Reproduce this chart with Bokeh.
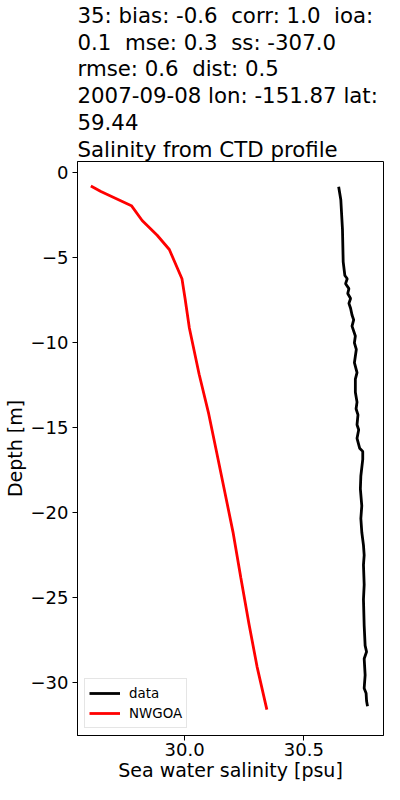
from bokeh.plotting import figure
from bokeh.models import (Range1d, FixedTicker, NumeralTickFormatter, CustomJSTickFormatter,
                          Legend, LegendItem)
from bokeh.embed import file_html
from bokeh.resources import INLINE

# ---- data ----
NB = "\u00a0"
title_lines = [
    "35: bias: -0.6" + NB + " corr: 1.0" + NB + " ioa:",
    "0.1" + NB + " mse: 0.3" + NB + " ss: -307.0",
    "rmse: 0.6" + NB + " dist: 0.5",
    "2007-09-08 lon: -151.87 lat:",
    "59.44",
    "Salinity from CTD profile",
]

data_salinity = [30.646, 30.655, 30.662, 30.665, 30.672, 30.682, 30.675, 30.689, 30.684, 30.696,
                 30.689, 30.696, 30.702, 30.709, 30.702, 30.716, 30.712, 30.720, 30.712, 30.723,
                 30.716, 30.716, 30.723, 30.719, 30.727, 30.723, 30.730, 30.723, 30.734, 30.747,
                 30.747, 30.739, 30.737, 30.743, 30.739, 30.743, 30.750, 30.753, 30.750, 30.753,
                 30.750, 30.753, 30.757, 30.763, 30.753, 30.757, 30.753, 30.761, 30.763, 30.767]
data_depth = [-0.84, -1.61, -3.36, -5.27, -6.07, -6.26, -6.55, -6.84, -7.13, -7.42,
              -7.71, -8.00, -8.39, -8.68, -9.05, -9.63, -10.03, -10.42, -11.20, -11.78,
              -12.17, -12.94, -13.52, -13.91, -14.27, -14.85, -15.15, -15.65, -16.23, -16.42,
              -16.89, -17.87, -18.63, -19.62, -20.37, -21.18, -21.94, -22.52, -23.10, -24.26,
              -25.13, -26.68, -27.85, -28.21, -28.62, -29.59, -30.36, -30.65, -31.11, -31.42]

model_salinity = [29.607, 29.649, 29.777, 29.822, 29.885, 29.936, 29.989, 30.002, 30.020, 30.061,
                  30.101, 30.135, 30.169, 30.203, 30.236, 30.270, 30.304, 30.345]
model_depth = [-0.80, -1.13, -1.96, -2.83, -3.70, -4.54, -6.26, -7.42, -9.16, -11.88,
               -14.20, -16.52, -18.84, -21.17, -23.87, -26.58, -29.10, -31.62]

x_ticks = [30.0, 30.5]
y_ticks = [-30, -25, -20, -15, -10, -5, 0]

FONT = "DejaVu Sans"

p = figure(width=384, height=784, output_backend="svg", toolbar_location=None,
           x_range=Range1d(29.551, 30.834), y_range=Range1d(-33.14, 0.64),
           min_border_left=71, min_border_right=1, min_border_top=153, min_border_bottom=49)

p.title.text = "\n".join(title_lines)
p.title.align = "left"
p.title.text_font = FONT
p.title.text_font_size = "21.3px"
p.title.text_font_style = "normal"
p.title.text_color = "black"
p.title.text_line_height = 1.07
p.title.standoff = 0
p.title.offset = 0

p.background_fill_color = "white"
p.border_fill_color = "white"
p.outline_line_color = "black"
p.outline_line_alpha = 1.0
p.outline_line_width = 1
p.xgrid.visible = False
p.ygrid.visible = False

r1 = p.line(data_salinity, data_depth, line_color="black", line_width=2.8)
r2 = p.line(model_salinity, model_depth, line_color="red", line_width=2.8)

for ax in (p.xaxis[0], p.yaxis[0]):
    ax.axis_line_color = "black"
    ax.major_tick_line_color = "black"
    ax.minor_tick_line_color = None
    ax.major_tick_out = 5
    ax.major_tick_in = 0
    ax.major_label_text_font = FONT
    ax.major_label_text_font_size = "18px"
    ax.major_label_text_color = "black"
    ax.axis_label_text_font = FONT
    ax.axis_label_text_font_size = "19px"
    ax.axis_label_text_font_style = "normal"
    ax.axis_label_text_color = "black"

p.xaxis[0].major_label_standoff = 2
p.xaxis[0].axis_label_standoff = 0
p.yaxis[0].major_label_standoff = 4
p.yaxis[0].axis_label_standoff = 2

p.xaxis[0].ticker = FixedTicker(ticks=x_ticks)
p.xaxis[0].formatter = NumeralTickFormatter(format="0.0")
p.xaxis[0].axis_label = "Sea water salinity [psu]"

p.yaxis[0].ticker = FixedTicker(ticks=y_ticks)
p.yaxis[0].formatter = CustomJSTickFormatter(
    code="return tick < 0 ? '\u2212' + (-tick) : tick.toString();")
p.yaxis[0].axis_label = "Depth [m]"

legend = Legend(items=[LegendItem(label="data", renderers=[r1]),
                       LegendItem(label="NWGOA", renderers=[r2])],
                location="bottom_left")
legend.margin = 7
legend.padding = 4
legend.spacing = 0
legend.glyph_width = 31
legend.glyph_height = 20
legend.label_height = 20
legend.label_standoff = 9
legend.label_text_font = FONT
legend.label_text_font_size = "13.4px"
legend.label_text_color = "black"
legend.border_line_color = "#cccccc"
legend.border_line_width = 1
legend.background_fill_color = "white"
legend.background_fill_alpha = 0.8
p.add_layout(legend)

open("out.html", "w").write(file_html(p, INLINE))
